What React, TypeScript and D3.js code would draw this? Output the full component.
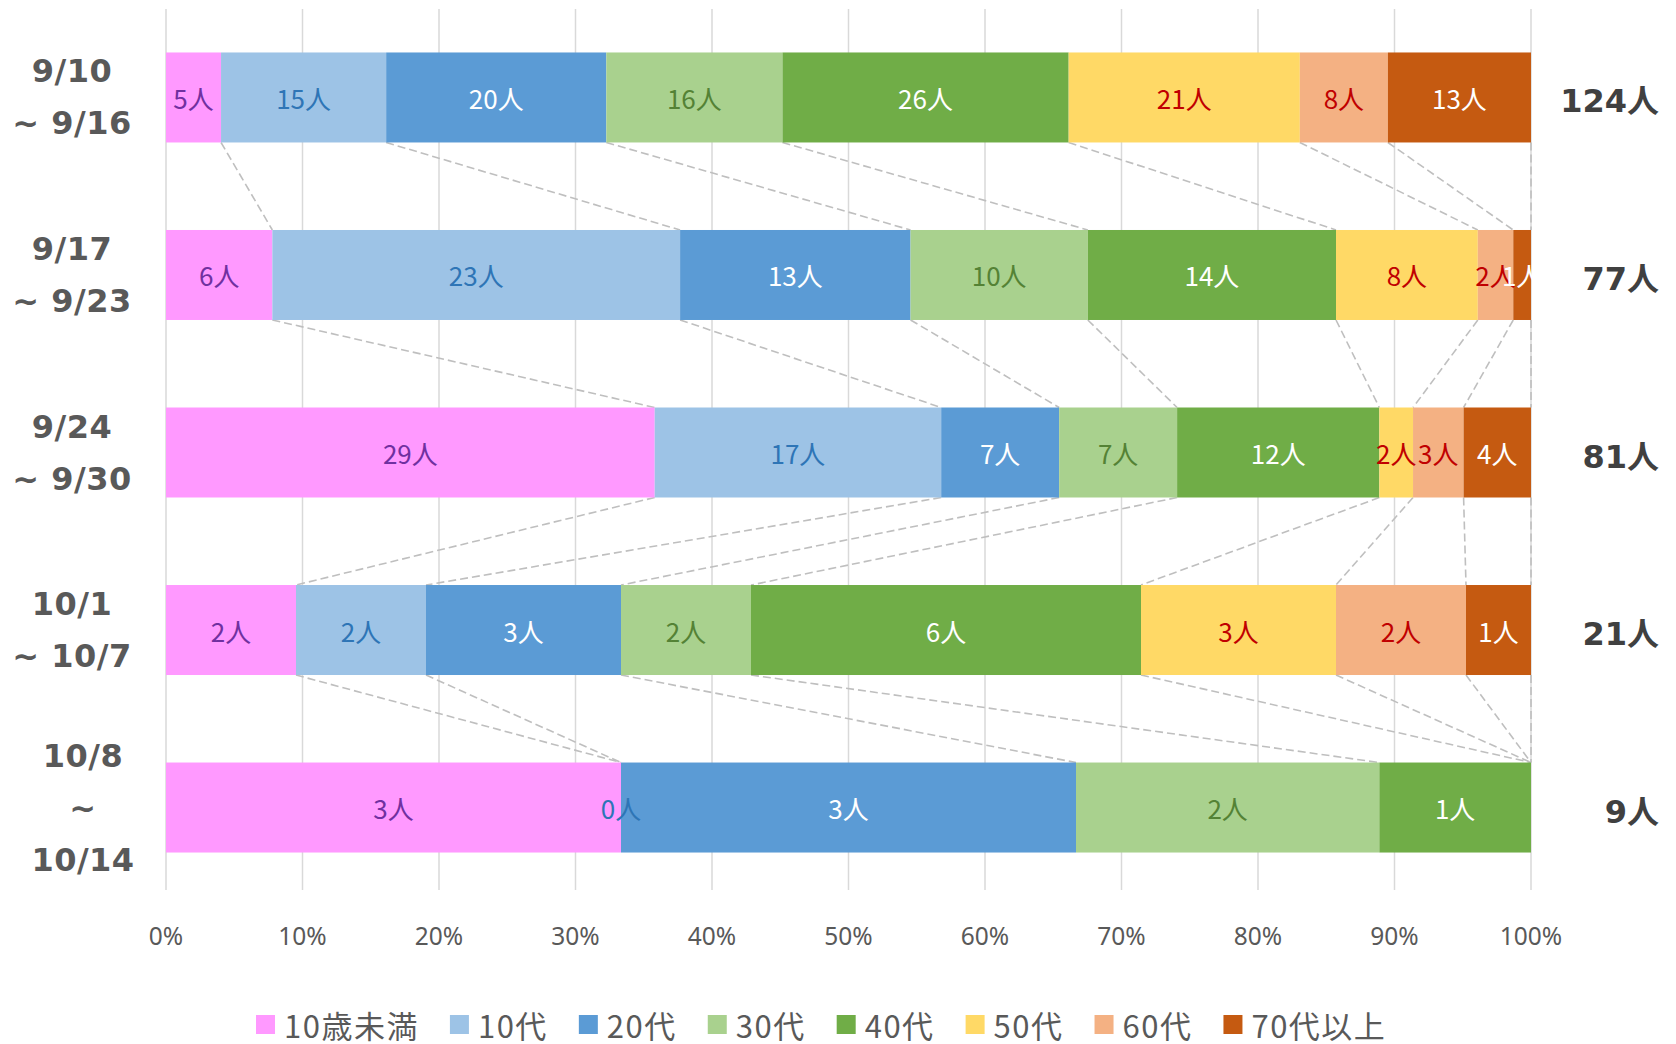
import React, { useEffect, useRef } from 'react';
import * as d3 from 'd3';

// week ranges (rows), top to bottom
const periods = ['9/10|~ 9/16', '9/17|~ 9/23', '9/24|~ 9/30', '10/1|~ 10/7', '10/8|~|10/14'];
const ageGroups = ['10歳未満', '10代', '20代', '30代', '40代', '50代', '60代', '70代以上'];

// people per age group, one value per period (null = no entry)
const under10 = [5, 6, 29, 2, 3];
const teens = [15, 23, 17, 2, 0];
const twenties = [20, 13, 7, 3, 3];
const thirties = [16, 10, 7, 2, 2];
const forties = [26, 14, 12, 6, 1];
const fifties = [21, 8, 2, 3, null];
const sixties = [8, 2, 3, 2, null];
const seventies = [13, 1, 4, 1, null];

const tickValues = [0, 0.1, 0.2, 0.3, 0.4, 0.5, 0.6, 0.7, 0.8, 0.9, 1];

const colors = ['#FF99FF', '#9DC3E6', '#5B9BD5', '#A9D18E', '#70AD47', '#FFD966', '#F4B183', '#C55A11'];
const labelColors = ['#7030A0', '#2E75B6', '#FFFFFF', '#548235', '#FFFFFF', '#C00000', '#C00000', '#FFFFFF'];

const W = 1676;
const H = 1044;

function App() {
    const svgRef = useRef<SVGSVGElement>(null);

    useEffect(() => {
        const series = [under10, teens, twenties, thirties, forties, fifties, sixties, seventies];
        const svg = d3.select(svgRef.current);
        svg.selectAll('*').remove();

        const x = d3.scaleLinear().domain([0, 1]).range([166, 1531]);
        const y = d3.scaleBand()
            .domain(periods)
            .range([12, 893])
            .paddingInner(0.493)
            .paddingOuter(0.228);

        // stacked shares per period
        const rows = periods.map((p, i) => {
            const vals = series.map(s => s[i]);
            const total = d3.sum(vals, v => v ?? 0);
            let acc = 0;
            const segs = vals.map((v, k) => {
                const x0 = acc / total;
                acc += v ?? 0;
                return { k, v, x0, x1: acc / total };
            });
            return { p, total, segs };
        });

        // gridlines
        svg.append('g')
            .selectAll('line')
            .data(tickValues)
            .enter().append('line')
            .attr('x1', d => x(d)).attr('x2', d => x(d))
            .attr('y1', 9).attr('y2', 890)
            .attr('stroke', '#D9D9D9')
            .attr('stroke-width', 1.5);

        // tick labels
        svg.append('g')
            .selectAll('text')
            .data(tickValues)
            .enter().append('text')
            .attr('x', d => x(d))
            .attr('y', 935)
            .attr('text-anchor', 'middle')
            .attr('dominant-baseline', 'central')
            .style('font-family', "'Noto Sans', sans-serif")
            .style('font-size', '24.5px')
            .style('fill', '#595959')
            .text(d => d3.format('.0%')(d));

        // series lines between bars
        const conn = svg.append('g');
        for (let i = 0; i < rows.length - 1; i++) {
            const a = rows[i];
            const b = rows[i + 1];
            a.segs.forEach((s, k) => {
                conn.append('line')
                    .attr('x1', x(s.x1))
                    .attr('y1', y(a.p)! + y.bandwidth())
                    .attr('x2', x(b.segs[k].x1))
                    .attr('y2', y(b.p)!)
                    .attr('stroke', '#BFBFBF')
                    .attr('stroke-width', 1.6)
                    .attr('stroke-dasharray', '8,4');
            });
        }

        // bars
        const bars = svg.append('g').selectAll('g')
            .data(rows)
            .enter().append('g');

        bars.selectAll('rect')
            .data(r => r.segs.filter(s => s.v !== null).map(s => ({ ...s, p: r.p })))
            .enter().append('rect')
            .attr('x', d => x(d.x0))
            .attr('width', d => x(d.x1) - x(d.x0))
            .attr('y', d => y(d.p)!)
            .attr('height', y.bandwidth())
            .attr('fill', d => colors[d.k]);

        bars.selectAll('text')
            .data(r => r.segs.filter(s => s.v !== null).map(s => ({ ...s, p: r.p })))
            .enter().append('text')
            .attr('x', d => (x(d.x0) + x(d.x1)) / 2)
            .attr('y', d => y(d.p)! + y.bandwidth() / 2)
            .attr('text-anchor', 'middle')
            .attr('dominant-baseline', 'central')
            .style('font-family', "'Noto Sans CJK JP', sans-serif")
            .style('font-size', '26px')
            .style('fill', d => labelColors[d.k])
            .text(d => `${d.v}人`);

        // period labels
        const cats = svg.append('g');
        rows.forEach(r => {
            const lines = r.p.split('|');
            const cy = y(r.p)! + y.bandwidth() / 2;
            lines.forEach((t, j) => {
                cats.append('text')
                    .attr('x', lines.length === 3 ? 83 : 72)
                    .attr('y', cy + (j - (lines.length - 1) / 2) * 52)
                    .attr('text-anchor', 'middle')
                    .attr('dominant-baseline', 'central')
                    .style('font-family', "'DejaVu Sans', sans-serif")
                    .style('font-weight', 'bold')
                    .style('font-size', '32px')
                    .style('letter-spacing', '0.5px')
                    .style('fill', '#595959')
                    .text(t);
            });
        });

        // totals
        svg.append('g')
            .selectAll('text')
            .data(rows)
            .enter().append('text')
            .attr('x', 1659)
            .attr('y', d => y(d.p)! + y.bandwidth() / 2 + 4)
            .attr('text-anchor', 'end')
            .attr('dominant-baseline', 'central')
            .style('font-family', "'DejaVu Sans', 'Noto Sans CJK JP', sans-serif")
            .style('font-weight', 'bold')
            .style('font-size', '32px')
            .style('fill', '#404040')
            .text(d => `${d.total}人`);

        // legend
        const legend = svg.append('g');
        let lx = 256;
        ageGroups.forEach((name, k) => {
            legend.append('rect')
                .attr('x', lx).attr('y', 1015)
                .attr('width', 19).attr('height', 19)
                .attr('fill', colors[k]);
            const t = legend.append('text')
                .attr('x', lx + 28)
                .attr('y', 1024)
                .attr('dominant-baseline', 'central')
                .style('font-family', "'Noto Sans CJK JP', sans-serif")
                .style('font-size', '31px')
                .style('letter-spacing', '1.5px')
                .style('fill', '#595959')
                .text(name);
            const w = (t.node() as SVGTextElement).getComputedTextLength();
            lx += 28 + w + 31;
        });
    }, []);

    return (
        <svg
            ref={svgRef}
            width={W}
            height={H}
            style={{ position: 'absolute', left: 0, top: 0, background: '#fff' }}
        />
    );
}

export default App;
